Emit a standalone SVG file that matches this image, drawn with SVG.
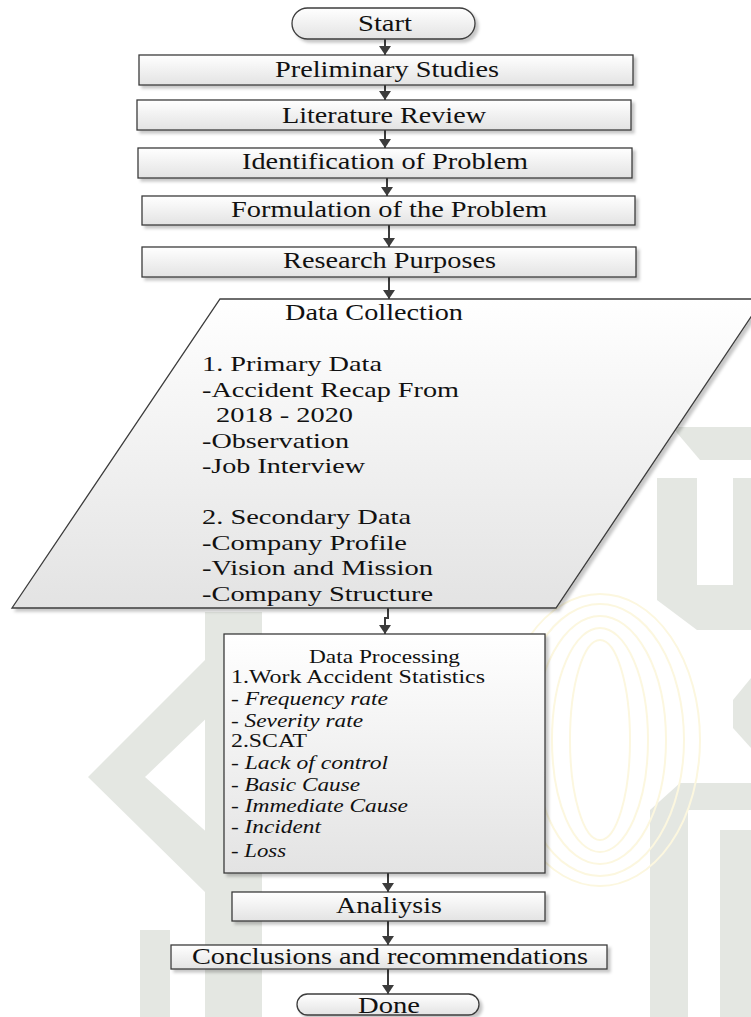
<svg xmlns="http://www.w3.org/2000/svg" width="751" height="1017" viewBox="0 0 751 1017">
<style>
.box{stroke:#3c3c3c;stroke-width:1.3;fill:url(#g);filter:url(#sh)}
.t{font-family:"Liberation Serif","Times New Roman",serif;fill:#111;font-size:23px}
.s{font-size:21.5px}
.p{font-size:18.5px}
.i{font-style:italic}
.c{stroke:#3c3c3c;stroke-width:2;fill:none;marker-end:url(#ah)}
.wm{fill:#e4e7e2}
.sw{fill:none;stroke:#fcf7df;stroke-width:2}
</style>
<defs>
<linearGradient id="g" x1="0" y1="0" x2="0" y2="1"><stop offset="0" stop-color="#ffffff"/><stop offset="1" stop-color="#e3e3e3"/></linearGradient>
<filter id="sh" x="-5%" y="-10%" width="115%" height="140%"><feDropShadow dx="3" dy="3" stdDeviation="1.5" flood-color="#000" flood-opacity="0.22"/></filter>
<marker id="ah" markerUnits="userSpaceOnUse" markerWidth="12" markerHeight="12" refX="9" refY="6" orient="auto"><path d="M0,0 L9,6 L0,12 z" fill="#3c3c3c"/></marker>
</defs>
<rect width="751" height="1017" fill="#ffffff"/>
<g id="watermark">
<polygon class="wm" points="672,427 751,427 751,460 700,460"/>
<polygon class="wm" points="657,478 697,478 697,585 733,585 733,478 751,478 751,630 697,630 657,600"/>
<polygon class="wm" points="751,678 733,700 733,728 751,748"/>
<polygon class="wm" points="680,783 751,783 751,810 650,810"/>
<rect class="wm" x="650" y="810" width="38" height="207"/>
<rect class="wm" x="720" y="830" width="31" height="187"/>
<polygon class="wm" points="215,650 88,777 205,892 240,892 240,862 145,777 215,710"/>
<rect class="wm" x="205" y="612" width="57" height="405"/>
<rect class="wm" x="140" y="930" width="30" height="87"/>
<ellipse class="sw" cx="600" cy="740" rx="30" ry="100"/>
<ellipse class="sw" cx="600" cy="740" rx="48" ry="112"/>
<ellipse class="sw" cx="600" cy="740" rx="66" ry="124"/>
<ellipse class="sw" cx="600" cy="740" rx="84" ry="136"/>
<ellipse class="sw" cx="600" cy="740" rx="100" ry="146"/>
</g>
<g id="connectors">
<path class="c" d="M385,39 V55"/>
<path class="c" d="M385,85 V100"/>
<path class="c" d="M385,130 V148"/>
<path class="c" d="M387,178 V196"/>
<path class="c" d="M389,225 V247"/>
<path class="c" d="M389,277 V299"/>
<path class="c" d="M388,608 V618 H385 V634"/>
<path class="c" d="M388,873 V892"/>
<path class="c" d="M388,921 V945"/>
<path class="c" d="M388,969 V994"/>
</g>
<g id="start">
<rect class="box" x="292" y="8" width="183" height="31" rx="15.5"/>
<text class="t" x="358" y="31" textLength="54" lengthAdjust="spacingAndGlyphs">Start</text>
</g>
<g id="preliminary">
<rect class="box" x="139" y="55" width="494" height="30"/>
<text class="t" x="275" y="77" textLength="224" lengthAdjust="spacingAndGlyphs">Preliminary Studies</text>
</g>
<g id="literature">
<rect class="box" x="137" y="100" width="494" height="30"/>
<text class="t" x="282" y="123" textLength="204" lengthAdjust="spacingAndGlyphs">Literature Review</text>
</g>
<g id="identification">
<rect class="box" x="138" y="148" width="494" height="30"/>
<text class="t" x="242" y="169" textLength="286" lengthAdjust="spacingAndGlyphs">Identification of Problem</text>
</g>
<g id="formulation">
<rect class="box" x="142" y="196" width="493" height="29"/>
<text class="t" x="231" y="217" textLength="316" lengthAdjust="spacingAndGlyphs">Formulation of the Problem</text>
</g>
<g id="purposes">
<rect class="box" x="142" y="247" width="494" height="30"/>
<text class="t" x="283" y="268" textLength="213" lengthAdjust="spacingAndGlyphs">Research Purposes</text>
</g>
<g id="collection">
<polygon class="box" points="220,299 763,299 556,608 12,608"/>
<text class="t" x="285" y="320" font-size="23" textLength="178" lengthAdjust="spacingAndGlyphs">Data Collection</text>
<text class="t s" x="202" y="371" textLength="180" lengthAdjust="spacingAndGlyphs">1. Primary Data</text>
<text class="t s" x="202" y="397" textLength="257" lengthAdjust="spacingAndGlyphs">-Accident Recap From</text>
<text class="t s" x="216" y="422" textLength="137" lengthAdjust="spacingAndGlyphs">2018 - 2020</text>
<text class="t s" x="202" y="448" textLength="147" lengthAdjust="spacingAndGlyphs">-Observation</text>
<text class="t s" x="202" y="473" textLength="163" lengthAdjust="spacingAndGlyphs">-Job Interview</text>
<text class="t s" x="202" y="524" textLength="209" lengthAdjust="spacingAndGlyphs">2. Secondary Data</text>
<text class="t s" x="202" y="550" textLength="205" lengthAdjust="spacingAndGlyphs">-Company Profile</text>
<text class="t s" x="202" y="575" textLength="231" lengthAdjust="spacingAndGlyphs">-Vision and Mission</text>
<text class="t s" x="202" y="601" textLength="231" lengthAdjust="spacingAndGlyphs">-Company Structure</text>
</g>
<g id="processing">
<rect class="box" x="224" y="634" width="321" height="239"/>
<text class="t p" x="309" y="663" textLength="151" lengthAdjust="spacingAndGlyphs">Data Processing</text>
<text class="t p" x="231" y="683" textLength="254" lengthAdjust="spacingAndGlyphs">1.Work Accident Statistics</text>
<text class="t p" x="231" y="705" textLength="157" lengthAdjust="spacingAndGlyphs">- <tspan class="i">Frequency rate</tspan></text>
<text class="t p" x="231" y="727" textLength="132" lengthAdjust="spacingAndGlyphs">- <tspan class="i">Severity rate</tspan></text>
<text class="t p" x="231" y="747" textLength="76" lengthAdjust="spacingAndGlyphs">2.SCAT</text>
<text class="t p" x="231" y="769" textLength="157" lengthAdjust="spacingAndGlyphs">- <tspan class="i">Lack of control</tspan></text>
<text class="t p" x="231" y="791" textLength="129" lengthAdjust="spacingAndGlyphs">- <tspan class="i">Basic Cause</tspan></text>
<text class="t p" x="231" y="812" textLength="177" lengthAdjust="spacingAndGlyphs">- <tspan class="i">Immediate Cause</tspan></text>
<text class="t p" x="231" y="833" textLength="90" lengthAdjust="spacingAndGlyphs">- <tspan class="i">Incident</tspan></text>
<text class="t p" x="231" y="857" textLength="55" lengthAdjust="spacingAndGlyphs">- <tspan class="i">Loss</tspan></text>
</g>
<g id="analysis">
<rect class="box" x="232" y="892" width="313" height="29"/>
<text class="t" x="336" y="913" textLength="106" lengthAdjust="spacingAndGlyphs">Analiysis</text>
</g>
<g id="conclusions">
<rect class="box" x="171" y="945" width="436" height="24"/>
<text class="t" x="192" y="964" textLength="396" lengthAdjust="spacingAndGlyphs">Conclusions and recommendations</text>
</g>
<g id="done">
<rect class="box" x="297" y="994" width="182" height="21" rx="10.5"/>
<text class="t" x="358" y="1013" textLength="62" lengthAdjust="spacingAndGlyphs">Done</text>
</g>
</svg>
